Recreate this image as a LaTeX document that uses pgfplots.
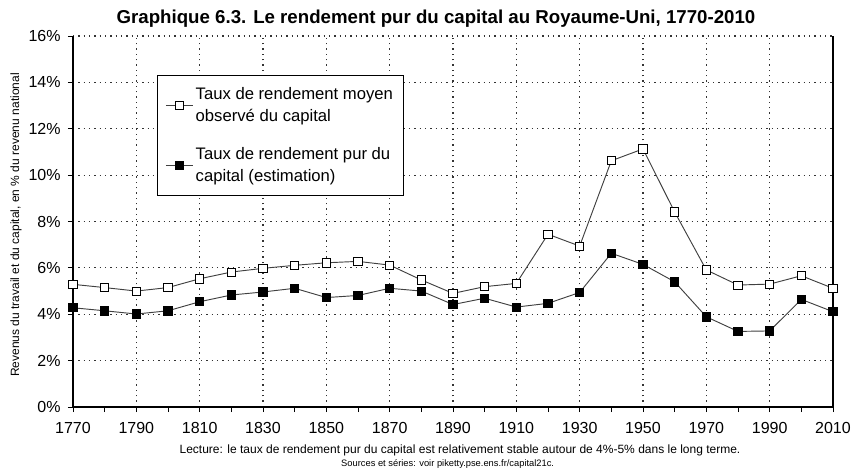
\documentclass[border=0pt]{standalone}
\usepackage{fontspec}
\setmainfont{Liberation Sans}
\usepackage{pgfplots}
\pgfplotsset{compat=1.18}

\pgfplotstableread{
year obs pur
1770 5.29 4.28
1780 5.15 4.15
1790 5.00 4.01
1800 5.15 4.15
1810 5.53 4.54
1820 5.82 4.83
1830 5.98 4.96
1840 6.11 5.12
1850 6.22 4.72
1860 6.28 4.81
1870 6.12 5.12
1880 5.48 5.00
1890 4.90 4.42
1900 5.19 4.69
1910 5.33 4.31
1920 7.45 4.47
1930 6.94 4.94
1940 10.62 6.63
1950 11.13 6.15
1960 8.41 5.40
1970 5.91 3.89
1980 5.26 3.26
1990 5.30 3.28
2000 5.66 4.64
2010 5.12 4.11
}\rkdata

\begin{document}
\begin{tikzpicture}
% canvas 851x472 px, 1px = 0.75pt, origin at lower-left of plot area
\path[use as bounding box] (-54.75pt,-48.75pt) rectangle (583.5pt,305.25pt);
\begin{axis}[
  scale only axis, width=570pt, height=278.25pt,
  xmin=1770, xmax=2010, ymin=0, ymax=16,
  axis x line*=bottom, axis y line*=left,
  axis line style={black, line width=0.8pt, -},
  xtick={1770,1790,...,2010},
  minor xtick={1780,1800,...,2000},
  ytick={0,2,...,16},
  yticklabel={\pgfmathprintnumber{\tick}\%},
  /pgf/number format/assume math mode=true,
  /pgf/number format/1000 sep={},
  tick label style={font=\fontsize{12}{14}\selectfont, black},
  tick align=outside,
  major tick length=3.75pt, minor tick length=3.75pt,
  tick style={black, line width=0.7pt},
  xmajorgrids, ymajorgrids,
  major grid style={black!80, line width=0.9pt, dash pattern=on 1pt off 3pt},
  xticklabel style={yshift=-4pt},
  yticklabel style={xshift=-2pt},
  legend style={at={(0.1105,0.8949)}, anchor=north west, draw=black, line width=0.7pt,
    font=\fontsize{12.5}{15}\selectfont, cells={align=left, anchor=west},
    inner xsep=6pt, inner ysep=7pt, row sep=14pt},
  legend image code/.code={
    \draw[#1, mark repeat=2, mark phase=2] plot coordinates {(0pt,0pt) (10pt,0pt) (20pt,0pt)};},
  clip=false,
]
\addplot[line width=0.7pt, black!75, mark=square*, mark size=3.1pt,
  mark options={fill=white, draw=black, line width=0.6pt}] table[x=year, y=obs] {\rkdata};
\addlegendentry{Taux de rendement moyen\\[1.5pt]observé du capital}
\addplot[line width=0.7pt, black!75, mark=square*, mark size=3.1pt,
  mark options={fill=black, draw=black, line width=0.6pt}] table[x=year, y=pur] {\rkdata};
\addlegendentry{Taux de rendement pur du\\[1.5pt]capital (estimation)}
\draw[black, line width=0.8pt] (rel axis cs:1,0) -- (rel axis cs:1,1);
\end{axis}
\node[font=\fontsize{14}{16}\selectfont\bfseries] at (272.25pt,291pt)
  {Graphique 6.3. Le rendement pur du capital au Royaume-Uni, 1770-2010};
\node[rotate=90, font=\fontsize{9}{11}\selectfont] at (-42.75pt,136.5pt)
  {Revenus du travail et du capital, en \% du revenu national};
\node[font=\fontsize{9}{11}\selectfont] at (290.25pt,-32.25pt)
  {Lecture: le taux de rendement pur du capital est relativement stable autour de 4\%-5\% dans le long terme.};
\node[font=\fontsize{7}{9}\selectfont] at (281pt,-42.4pt)
  {Sources et séries: voir piketty.pse.ens.fr/capital21c.};
\end{tikzpicture}
\end{document}
